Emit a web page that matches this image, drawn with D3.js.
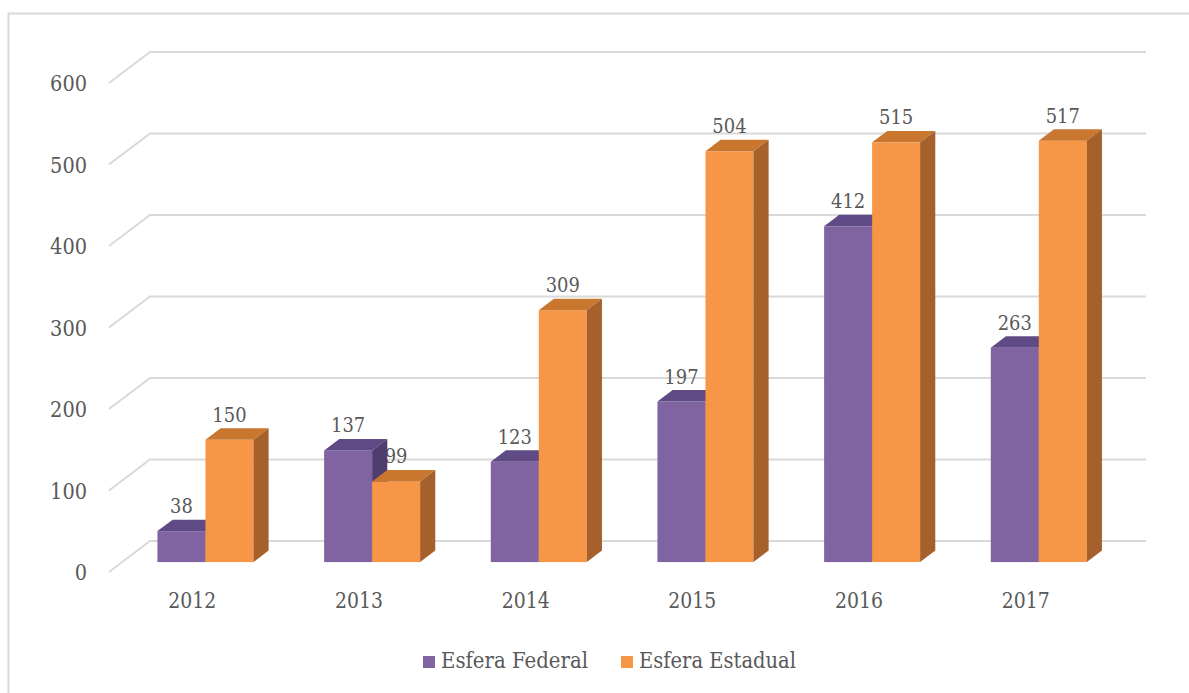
<!DOCTYPE html>
<html><head><meta charset="utf-8">
<script src="https://cdn.jsdelivr.net/npm/d3@7"></script>
<style>
body{margin:0;background:#fff;}
svg text{fill:#595959;}
</style></head>
<body><svg id="c" width="1189" height="693"></svg>
<script>
const categories = ["2012","2013","2014","2015","2016","2017"];
const seriesNames = ["Esfera Federal","Esfera Estadual"];
const federal = [38,137,123,197,412,263];
const estadual = [150,99,309,504,515,517];
const yTicks = [0,100,200,300,400,500,600];
const frontColors = ["#8064a2","#f79646"];
const topColors = ["#5f4a85","#c9772f"];
const sideColors = ["#4f3d70","#a5602b"];
const FONT = "DejaVu Serif";

const svg = d3.select("#c").style("font-family", FONT);
svg.append("path").attr("d","M8.5,693 L8.5,13.5 L1189,13.5").attr("fill","none").attr("stroke","#d9d9d9").attr("stroke-width",2);

const D = [41,-31];
const t1 = 0.32, t2 = 0.69;
const y = d3.scaleLinear().domain([0,600]).range([572,83]);
const x0 = d3.scaleBand().domain(categories).range([109,1109]).paddingInner(0.424).paddingOuter(0.212);
const x1 = d3.scaleBand().domain(seriesNames).range([0,x0.bandwidth()]);
const xc = d3.scaleBand().domain(categories).range([109,1109]);

const g = svg.append("g");
yTicks.forEach(v=>{
  const yf = y(v);
  g.append("path")
   .attr("d",`M109,${yf} L${109+D[0]},${yf+D[1]} L1146,${yf+D[1]}`)
   .attr("fill","none").attr("stroke","#d9d9d9").attr("stroke-width",2);
  svg.append("text").attr("x",87).attr("y",yf+8)
    .attr("text-anchor","end").attr("font-size",22)
    .attr("textLength",12.3*String(v).length).attr("lengthAdjust","spacingAndGlyphs").text(v);
});

categories.forEach(c=>{
  svg.append("text").attr("x",xc(c)+xc.bandwidth()/2).attr("y",608)
    .attr("text-anchor","middle").attr("font-size",22)
    .attr("textLength",48).attr("lengthAdjust","spacingAndGlyphs").text(c);
});

const offX = t1*D[0], offY = t1*D[1];
const dX = (t2-t1)*D[0], dY = (t2-t1)*D[1];
const w = x1.bandwidth();

function barGeom(cat, s, v){
  const x = x0(cat)+x1(seriesNames[s])+offX;
  const yb = y(0)+offY, yt = y(v)+offY;
  return {x,yb,yt};
}
function drawBar(cat, s, v){
  const {x,yb,yt} = barGeom(cat,s,v);
  svg.append("rect").attr("x",x).attr("y",yt).attr("width",w).attr("height",yb-yt).attr("fill",frontColors[s]);
  svg.append("path").attr("d",`M${x},${yt} L${x+w},${yt} L${x+w+dX},${yt+dY} L${x+dX},${yt+dY} Z`).attr("fill",topColors[s]);
  svg.append("path").attr("d",`M${x+w},${yt} L${x+w+dX},${yt+dY} L${x+w+dX},${yb+dY} L${x+w},${yb} Z`).attr("fill",sideColors[s]);
}
function drawLabel(cat, s, v){
  const {x,yt} = barGeom(cat,s,v);
  svg.append("text").attr("x",x+w/2).attr("y",yt-18).attr("text-anchor","middle").attr("font-size",20)
    .attr("textLength",11.4*String(v).length).attr("lengthAdjust","spacingAndGlyphs").text(v);
}
categories.forEach((c,i)=>drawLabel(c,1,estadual[i]));
categories.forEach((c,i)=>{ drawBar(c,0,federal[i]); drawBar(c,1,estadual[i]); });
categories.forEach((c,i)=>drawLabel(c,0,federal[i]));

const legend = [{x:423,tx:441,len:147},{x:621,tx:639,len:157}];
seriesNames.forEach((n,i)=>{
  svg.append("rect").attr("x",legend[i].x).attr("y",656).attr("width",12).attr("height",12).attr("fill",frontColors[i]);
  svg.append("text").attr("x",legend[i].tx).attr("y",668).attr("font-size",22)
    .attr("textLength",legend[i].len).attr("lengthAdjust","spacingAndGlyphs").text(n);
});
</script></body></html>
